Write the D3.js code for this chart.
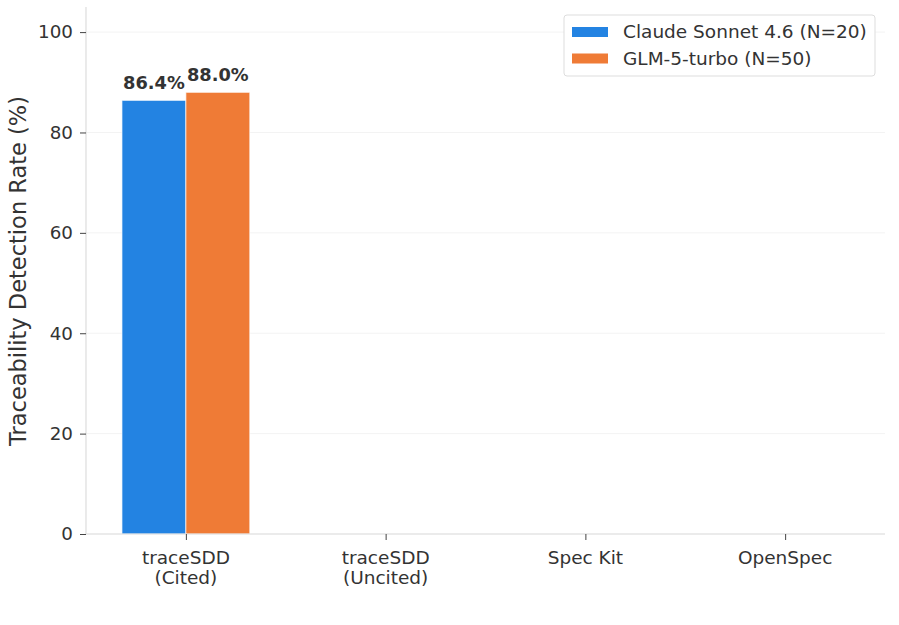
<!DOCTYPE html>
<html>
<head>
<meta charset="utf-8">
<script src="https://cdn.jsdelivr.net/npm/d3@7"></script>
<style>
  body { margin: 0; background: #fff; font-family: "DejaVu Sans", sans-serif; }
</style>
</head>
<body>
<script>
// data
var categories = ["traceSDD\n(Cited)", "traceSDD\n(Uncited)", "Spec Kit", "OpenSpec"]
var seriesNames = ["Claude Sonnet 4.6 (N=20)", "GLM-5-turbo (N=50)"]
var seriesColors = ["#2383e2", "#ef7b36"]
var claudeValues = [86.4, 0, 0, 0]
var glmValues = [88.0, 0, 0, 0]
var yTicks = [0, 20, 40, 60, 80, 100]

var width = 899, height = 625
var margin = {top: 7, right: 14, bottom: 91, left: 86}
var plotW = width - margin.left - margin.right
var plotH = height - margin.top - margin.bottom

var svg = d3.select("body").append("svg")
  .attr("width", width)
  .attr("height", height)

var g = svg.append("g")
  .attr("transform", "translate(" + margin.left + "," + margin.top + ")")

// x is continuous like matplotlib: categories at 0..3, limits -0.5..3.5
var x = d3.scaleLinear().domain([-0.5, categories.length - 0.5]).range([0, plotW])
var y = d3.scaleLinear().domain([0, 105]).range([plotH, 0])
var barW = 0.32

// faint grid
g.selectAll("line.grid")
  .data(yTicks)
  .enter().append("line")
  .attr("class", "grid")
  .attr("x1", 0).attr("x2", plotW)
  .attr("y1", function(d) { return y(d) })
  .attr("y2", function(d) { return y(d) })
  .attr("stroke", "#f3f3f3")
  .attr("stroke-width", 1)

// bars
var series = [claudeValues, glmValues]
series.forEach(function(vals, s) {
  var offset = (s - 0.5) * barW
  g.selectAll("rect.s" + s)
    .data(vals)
    .enter().append("rect")
    .attr("class", "s" + s)
    .attr("x", function(d, i) { return x(i + offset - barW / 2) })
    .attr("width", x(barW) - x(0))
    .attr("y", function(d) { return y(d) })
    .attr("height", function(d) { return y(0) - y(d) })
    .attr("fill", seriesColors[s])
    .attr("stroke", "#ffffff")
    .attr("stroke-opacity", 0.7)
    .attr("stroke-width", 1)

  // value labels above bars (skip empty ones)
  g.selectAll("text.v" + s)
    .data(vals.map(function(v, i) { return {v: v, i: i} }).filter(function(d) { return d.v > 0 }))
    .enter().append("text")
    .attr("class", "v" + s)
    .attr("x", function(d) { return x(d.i + offset) })
    .attr("y", function(d) { return y(d.v) - 11 })
    .attr("text-anchor", "middle")
    .attr("font-size", 17.8)
    .attr("font-weight", "bold")
    .attr("fill", "#333333")
    .text(function(d) { return d.v.toFixed(1) + "%" })
})

// spines
g.append("line")
  .attr("x1", 0).attr("x2", 0).attr("y1", 0).attr("y2", plotH)
  .attr("stroke", "#dddddd").attr("stroke-width", 1.2)
g.append("line")
  .attr("x1", 0).attr("x2", plotW).attr("y1", plotH).attr("y2", plotH)
  .attr("stroke", "#dddddd").attr("stroke-width", 1.2)

// y axis
var yAxis = g.append("g")
  .call(d3.axisLeft(y).tickValues(yTicks).tickSize(6).tickPadding(7))
yAxis.select(".domain").remove()
yAxis.selectAll(".tick line").attr("stroke", "#444")
yAxis.selectAll(".tick text")
  .attr("font-family", "DejaVu Sans")
  .attr("font-size", 18.3)
  .attr("fill", "#333")

// x axis
var xAxis = g.append("g")
  .attr("transform", "translate(0," + plotH + ")")
  .call(d3.axisBottom(x).tickValues(d3.range(categories.length)).tickSize(6).tickFormat(""))
xAxis.select(".domain").remove()
xAxis.selectAll(".tick line").attr("stroke", "#444")

var xl = g.selectAll("text.xl")
  .data(categories)
  .enter().append("text")
  .attr("class", "xl")
  .attr("text-anchor", "middle")
  .attr("font-size", 18.5)
  .attr("fill", "#333")
  .attr("transform", function(d, i) { return "translate(" + x(i) + "," + (plotH + 30) + ")" })
xl.selectAll("tspan")
  .data(function(d) { return d.split("\n") })
  .enter().append("tspan")
  .attr("x", 0)
  .attr("dy", function(d, j) { return j === 0 ? 0 : 19.5 })
  .text(function(d) { return d })

// y label
svg.append("text")
  .attr("transform", "translate(26," + 271 + ") rotate(-90)")
  .attr("text-anchor", "middle")
  .attr("font-size", 22.5)
  .attr("fill", "#333")
  .text("Traceability Detection Rate (%)")

// legend
var legend = svg.append("g").attr("transform", "translate(564,15)")
legend.append("rect")
  .attr("width", 311).attr("height", 61).attr("rx", 3)
  .attr("fill", "#fff").attr("stroke", "#dddddd").attr("stroke-width", 1)
seriesNames.forEach(function(name, s) {
  legend.append("rect")
    .attr("x", 8).attr("y", 12 + s * 26.5)
    .attr("width", 36).attr("height", 10)
    .attr("fill", seriesColors[s])
  legend.append("text")
    .attr("x", 59).attr("y", 23.3 + s * 26.7)
    .attr("font-size", 18.5)
    .attr("fill", "#333")
    .text(name)
})
</script>
</body>
</html>
